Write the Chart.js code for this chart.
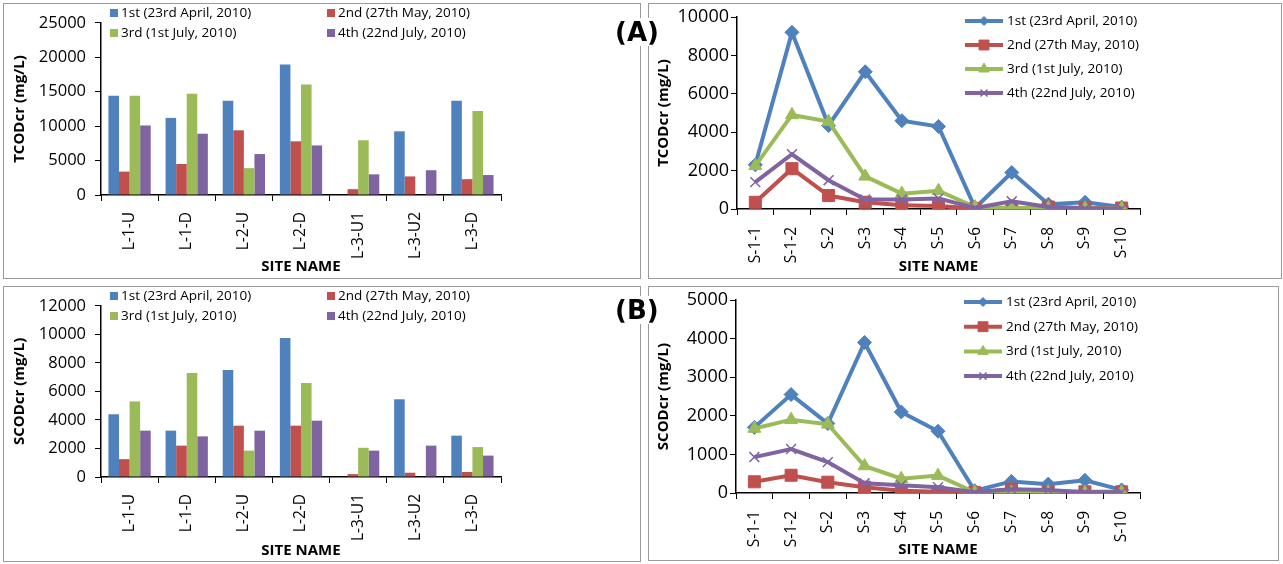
<!DOCTYPE html>
<html>
<head>
<meta charset="utf-8">
<script src="https://cdn.jsdelivr.net/npm/chart.js@4.4.1/dist/chart.umd.min.js"></script>
<style>
body { margin: 0; background: #fff; width: 1283px; height: 564px; position: relative; overflow: hidden; }
.panel { position: absolute; border: 1px solid #9a9a9a; box-sizing: border-box; background: #fff; }
.panel canvas { position: absolute; left: 0; top: 0; }
.tag { position: absolute; font: bold 26px "DejaVu Sans", sans-serif; background: #fff; padding: 0 4px; line-height: 28px; }
</style>
</head>
<body>
<div class="panel" style="left:3px;top:3px;width:638px;height:276px"><canvas id="c1" width="636" height="274"></canvas></div>
<div class="panel" style="left:648px;top:3px;width:634px;height:276px"><canvas id="c2" width="632" height="274"></canvas></div>
<div class="panel" style="left:3px;top:286px;width:638px;height:276px"><canvas id="c3" width="636" height="274"></canvas></div>
<div class="panel" style="left:648px;top:286px;width:631px;height:275px"><canvas id="c4" width="629" height="273"></canvas></div>
<div class="tag" style="left:611px;top:18px">(A)</div>
<div class="tag" style="left:611px;top:296px">(B)</div>

<script>
// Sites and sampling rounds
const sitesL = ['L-1-U', 'L-1-D', 'L-2-U', 'L-2-D', 'L-3-U1', 'L-3-U2', 'L-3-D'];
const sitesS = ['S-1-1', 'S-1-2', 'S-2', 'S-3', 'S-4', 'S-5', 'S-6', 'S-7', 'S-8', 'S-9', 'S-10'];
const rounds = ['1st (23rd April, 2010)', '2nd (27th May, 2010)', '3rd (1st July, 2010)', '4th (22nd July, 2010)'];
const colors = ['#4F81BD', '#C0504D', '#9BBB59', '#8064A2'];
const markers = ['rectRot', 'rect', 'triangle', 'crossRot'];

// (A) TCODcr, L sites (bars)
const tcodL1 = [14400, 11200, 13700, 18950, null, 9250, 13700];
const tcodL2 = [3400, 4500, 9400, 7800, 850, 2700, 2300];
const tcodL3 = [14400, 14700, 3900, 16050, 7950, null, 12200];
const tcodL4 = [10100, 8900, 5950, 7200, 3000, 3600, 2900];

// (A) TCODcr, S sites (lines)
const tcodS1 = [2300, 9200, 4350, 7150, 4600, 4300, 50, 1900, 250, 350, 100];
const tcodS2 = [350, 2100, 700, 350, 200, 150, 20, 20, 100, 50, 50];
const tcodS3 = [2250, 4900, 4550, 1700, 800, 950, 100, 50, 50, 30, 30];
const tcodS4 = [1400, 2850, 1500, 500, 500, 550, 50, 400, 100, 20, 20];

// (B) SCODcr, L sites (bars)
const scodL1 = [4400, 3250, 7500, 9750, null, 5450, 2900];
const scodL2 = [1250, 2200, 3600, 3600, 200, 300, 350];
const scodL3 = [5300, 7300, 1850, 6600, 2050, null, 2100];
const scodL4 = [3250, 2850, 3250, 3950, 1850, 2200, 1500];

// (B) SCODcr, S sites (lines)
const scodS1 = [1700, 2550, 1800, 3900, 2100, 1600, 60, 300, 230, 330, 80];
const scodS2 = [290, 460, 280, 150, 60, 30, 10, 100, 35, 30, 30];
const scodS3 = [1670, 1900, 1780, 700, 370, 450, 20, 10, 20, 10, 20];
const scodS4 = [930, 1140, 800, 250, 200, 150, 20, 100, 80, 20, 20];

Chart.defaults.font.family = '"Open Sans", sans-serif';
Chart.defaults.color = '#000';

// Legend drawn inside the plot, like the spreadsheet version
const panelLegend = {
    id: 'panelLegend',
    afterDraw(chart, args, opts) {
        const ctx = chart.ctx;
        ctx.save();
        ctx.font = '13.5px "Open Sans", sans-serif';
        ctx.textBaseline = 'middle';
        chart.data.datasets.forEach((ds, i) => {
            if (opts.mode === 'grid') {
                const x = opts.x + (i % 2) * opts.colW;
                const y = opts.y + Math.floor(i / 2) * opts.rowH;
                ctx.fillStyle = ds.backgroundColor;
                ctx.fillRect(x, y - 4, 8, 8);
                ctx.fillStyle = '#000';
                ctx.fillText(ds.label, x + 11, y);
            } else {
                const x = opts.x;
                const y = opts.y + i * opts.rowH;
                ctx.strokeStyle = ds.borderColor;
                ctx.lineWidth = 4;
                ctx.beginPath();
                ctx.moveTo(x, y);
                ctx.lineTo(x + 38, y);
                ctx.stroke();
                ctx.fillStyle = ds.borderColor;
                ctx.lineWidth = ds.pointStyle === 'crossRot' ? 1.5 : 1;
                const r = { rectRot: 4.5, rect: 7, triangle: 6, crossRot: 5 }[ds.pointStyle];
                Chart.helpers.drawPoint(ctx, { pointStyle: ds.pointStyle, radius: r, rotation: 0, borderWidth: ctx.lineWidth }, x + 19, y);
                ctx.fillStyle = '#000';
                ctx.fillText(ds.label, x + 42, y);
            }
        });
        ctx.restore();
    }
};

function yAxis(max, step, tickSize, tickPad, title, titlePad, width) {
    return {
        min: 0,
        max: max,
        ticks: { stepSize: step, font: { size: tickSize }, padding: tickPad, callback: v => v },
        grid: { drawOnChartArea: false, drawTicks: true, tickLength: 6, color: '#000' },
        border: { color: '#000', width: 1.5 },
        title: { display: true, text: title, font: { size: 15, weight: 'bold' }, padding: { top: titlePad, bottom: 0 } },
        afterFit(s) { s.width = width; }
    };
}

function xAxis(tickPad, titlePad, height) {
    return {
        offset: true,
        ticks: { minRotation: 90, maxRotation: 90, autoSkip: false, font: { size: 15.5 }, padding: tickPad },
        grid: { offset: true, drawOnChartArea: false, drawTicks: true, tickLength: 6, color: '#000' },
        border: { color: '#000', width: 1.5 },
        title: { display: true, text: 'SITE NAME', font: { size: 15, weight: 'bold' }, padding: { top: 0, bottom: titlePad } },
        afterFit(s) { s.height = height; }
    };
}

function barChart(id, series, yOpts, xOpts, pad, legend) {
    new Chart(document.getElementById(id), {
        type: 'bar',
        data: {
            labels: sitesL,
            datasets: series.map((d, i) => ({
                label: rounds[i],
                data: d,
                backgroundColor: colors[i],
                borderWidth: 0,
                categoryPercentage: 0.74,
                barPercentage: 1
            }))
        },
        options: {
            responsive: false,
            animation: false,
            layout: { padding: pad },
            plugins: { legend: { display: false }, tooltip: { enabled: false }, panelLegend: legend },
            scales: { x: xOpts, y: yOpts }
        },
        plugins: [panelLegend]
    });
}

function lineChart(id, series, yOpts, xOpts, pad, legend) {
    const radius = { rectRot: 7, rect: 8.5, triangle: 7.5, crossRot: 7 };
    new Chart(document.getElementById(id), {
        type: 'line',
        data: {
            labels: sitesS,
            datasets: series.map((d, i) => ({
                label: rounds[i],
                data: d,
                borderColor: colors[i],
                backgroundColor: colors[i],
                borderWidth: 4,
                tension: 0,
                pointStyle: markers[i],
                pointRadius: radius[markers[i]],
                pointBackgroundColor: colors[i],
                pointBorderColor: colors[i],
                pointBorderWidth: markers[i] === 'crossRot' ? 1.5 : 1,
                order: 4 - i
            }))
        },
        options: {
            responsive: false,
            animation: false,
            layout: { padding: pad },
            plugins: { legend: { display: false }, tooltip: { enabled: false }, panelLegend: legend },
            scales: { x: xOpts, y: yOpts }
        },
        plugins: [panelLegend]
    });
}

// Top left
barChart('c1', [tcodL1, tcodL2, tcodL3, tcodL4],
    yAxis(25000, 5000, 16.5, 9, 'TCODcr (mg/L)', 7, 97),
    xAxis(11, 2, 83),
    { top: 12, right: 139, left: 0, bottom: 0 },
    { mode: 'grid', x: 106, y: 9, colW: 217, rowH: 20 });

// Top right
lineChart('c2', [tcodS1, tcodS2, tcodS3, tcodS4],
    yAxis(10000, 2000, 18, 2, 'TCODcr (mg/L)', 6, 88),
    xAxis(12, 2, 69),
    { top: 13, right: 141, left: 0, bottom: 0 },
    { mode: 'list', x: 316, y: 17, rowH: 24 });

// Bottom left
barChart('c3', [scodL1, scodL2, scodL3, scodL4],
    yAxis(12000, 2000, 16.5, 9, 'SCODcr (mg/L)', 7, 97),
    xAxis(11, 1, 84),
    { top: 12, right: 139, left: 0, bottom: 0 },
    { mode: 'grid', x: 106, y: 9, colW: 217, rowH: 20 });

// Bottom right
lineChart('c4', [scodS1, scodS2, scodS3, scodS4],
    yAxis(5000, 1000, 18, 2, 'SCODcr (mg/L)', 6, 87),
    xAxis(12, 1, 67),
    { top: 13, right: 138, left: 0, bottom: 0 },
    { mode: 'list', x: 315, y: 15, rowH: 24.7 });
</script>
</body>
</html>
